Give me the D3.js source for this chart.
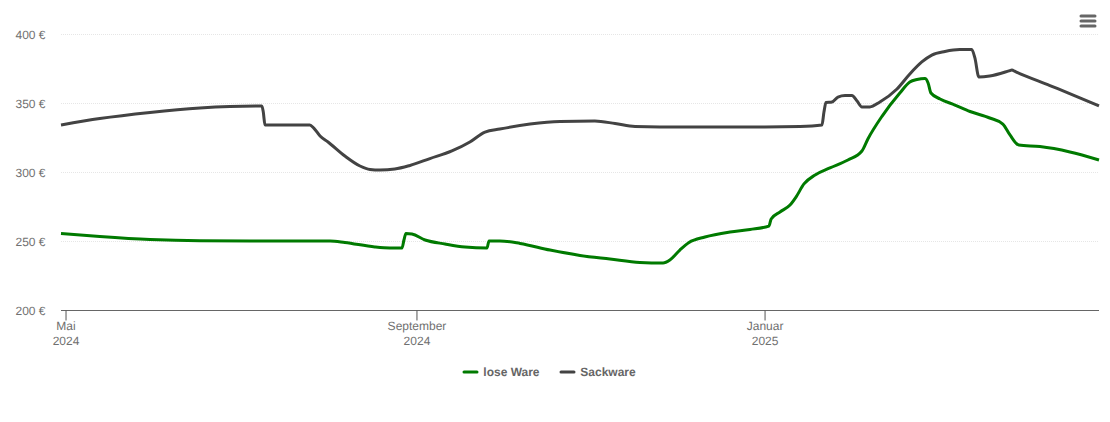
<!DOCTYPE html>
<html><head><meta charset="utf-8">
<script src="https://cdn.jsdelivr.net/npm/d3@7"></script>
<style>html,body{margin:0;padding:0;background:#fff}svg{display:block}text{font-family:"Liberation Sans",Arial,sans-serif;text-rendering:geometricPrecision}</style>
</head><body><div id="c"></div>
<script>
// Days are counted from 1 May 2024.
const looseDays=[-1.9,11.7,29.3,46.8,64.3,92.4,97.6,108.1,113.4,117.6,118.3,119,121.1,125.7,132.7,139.7,147.4,148.1,151.9,159,169.5,180,190.5,201,209.1,211.5,215,218.2,223.8,232.6,239.6,246.2,247,250.1,253.6,255.7,258.5,262.4,267.6,273.9,278.8,280.9,285.9,292.1,295.6,298.1,300.9,302,303,306.2,311.4,316.7,323.6,328.2,330.7,333.8,341.2,351.7,361.9];
const looseValues=[255.8,253.6,251.4,250.5,250.4,250.4,249.3,246,245.3,245.3,251.1,255.8,255.4,251.1,248.2,246,245.3,250.4,250.4,248.6,243.8,239.9,237.3,234.8,234.4,236.6,243.8,249.3,253.3,256.9,258.7,261.2,266.3,271.4,276.4,282.2,291.7,298.2,303.3,309.1,315.6,324.3,340.9,357.6,365.6,367.4,368.1,364.9,357.6,353.3,348.9,344.2,339.5,335.1,327.2,319.9,318.8,314.9,309.1];
const sackDays=[-1.9,11.7,29.3,46.8,57.3,68.5,69,69.6,85.3,86.7,88.9,91.7,97.6,102.9,106.4,109.9,115.1,120.4,127.4,135.1,141.4,146.7,151.9,162.5,173,185.2,192.3,199.3,208,244.8,257.1,264.8,265.5,266.2,268.3,270.4,272.9,275.3,277.1,278.8,281.6,285.1,291.1,295.6,299.8,303.3,307.9,313.1,317.3,318.4,319.8,323.6,330.3,331.4,332.3,344.7,353.5,361.9];
const sackValues=[334.4,339.1,343.5,346.7,347.8,348.2,343.8,334.4,334.4,332.2,326.4,322.1,311.9,304.7,302.2,301.8,302.5,305.1,310.1,315.6,322.1,329.3,331.5,335.1,337,337.3,335.5,333.3,333,333,333.3,334.4,343.8,350.7,351.1,354.7,355.8,355.8,351.8,347.5,347.5,351.1,360.5,371.4,380.1,385.1,387.7,389.1,389.1,383,369.2,369.9,373.6,374.3,373.4,363,355.6,348.2];
const yTicks=[200,250,300,350,400];
const xTickDates=["2024-05-01","2024-09-01","2025-01-01"];
const xTickMonths=["Mai","September","Januar"];
const xTickYears=["2024","2024","2025"];
const seriesNames=["lose Ware","Sackware"];
const seriesColors=["#007a00","#434343"];

const W=1110,H=422,L=61,R=1099,T=34.5,B=310.5;
const parse=d3.utcParse("%Y-%m-%d"),t0=parse("2024-05-01");
const dayToDate=d=>new Date(+t0+d*864e5);
const x=d3.scaleUtc().domain([dayToDate(-1.9),dayToDate(361.9)]).range([L,R]);
const y=d3.scaleLinear().domain([200,400]).range([B,T]);
const svg=d3.select("#c").append("svg").attr("width",W).attr("height",H);
const axisFont='"Liberation Sans",Arial,sans-serif', textGrey="#707070";

svg.append("g").selectAll("line").data(yTicks.filter(v=>v>200)).join("line")
 .attr("x1",L).attr("x2",R).attr("y1",y).attr("y2",y)
 .attr("stroke","#e6e6e6").attr("stroke-width",1).attr("stroke-dasharray","1,1");

const yAxis=d3.axisLeft(y).tickValues(yTicks).tickFormat(d=>d+" €").tickSize(0).tickPadding(15.5).offset(0);
const gy=svg.append("g").attr("transform",`translate(${L},0)`).call(yAxis);
gy.select(".domain").remove();
gy.selectAll("text").attr("fill",textGrey).style("font-size","12px").style("font-family",axisFont).attr("dy","0.39em");

const xAxis=d3.axisBottom(x).tickValues(xTickDates.map(parse)).tickFormat("").tickSize(10).tickSizeOuter(0).offset(0);
const gx=svg.append("g").attr("transform",`translate(-0.4,${B})`).call(xAxis);
gx.select(".domain").attr("stroke","#666").attr("stroke-width",1).attr("d",`M${L+0.4},0H${R+0.4}`);
gx.selectAll(".tick line").attr("stroke","#555").attr("stroke-width",1);
gx.selectAll(".tick").each(function(_,i){
 const t=d3.select(this).select("text").attr("y",0).attr("dy",null).attr("fill",textGrey).style("font-size","12px").style("font-family",axisFont).text(null);
 t.append("tspan").attr("x",0).attr("y",19.5).text(xTickMonths[i]);
 t.append("tspan").attr("x",0).attr("y",34.5).text(xTickYears[i]);
});

const line=d3.line().x(d=>x(dayToDate(d[0]))).y(d=>y(d[1])).curve(d3.curveMonotoneX);
const zip=(a,b)=>a.map((d,i)=>[d,b[i]]);
const plot=svg.append("g").attr("fill","none").attr("stroke-width",3).attr("stroke-linejoin","round");
plot.append("path").attr("d",line(zip(looseDays,looseValues))).attr("stroke",seriesColors[0]);
plot.append("path").attr("d",line(zip(sackDays,sackValues))).attr("stroke",seriesColors[1]);

const legendX=[464,561];
const lg=svg.append("g").selectAll("g").data(seriesNames).join("g").attr("transform",(d,i)=>`translate(${legendX[i]},372)`);
lg.append("line").attr("x1",0).attr("x2",13).attr("stroke",(d,i)=>seriesColors[i]).attr("stroke-width",3).attr("stroke-linecap","round");
lg.append("text").attr("x",19.3).attr("y",4).attr("fill","#666").style("font-size","12px").style("font-weight","bold").text(d=>d);

const menuRows=[16,21,26];
svg.append("g").selectAll("line").data(menuRows).join("line").attr("x1",1081).attr("x2",1095).attr("y1",d=>d).attr("y2",d=>d).attr("stroke","#666").attr("stroke-width",3).attr("stroke-linecap","round");
</script></body></html>
